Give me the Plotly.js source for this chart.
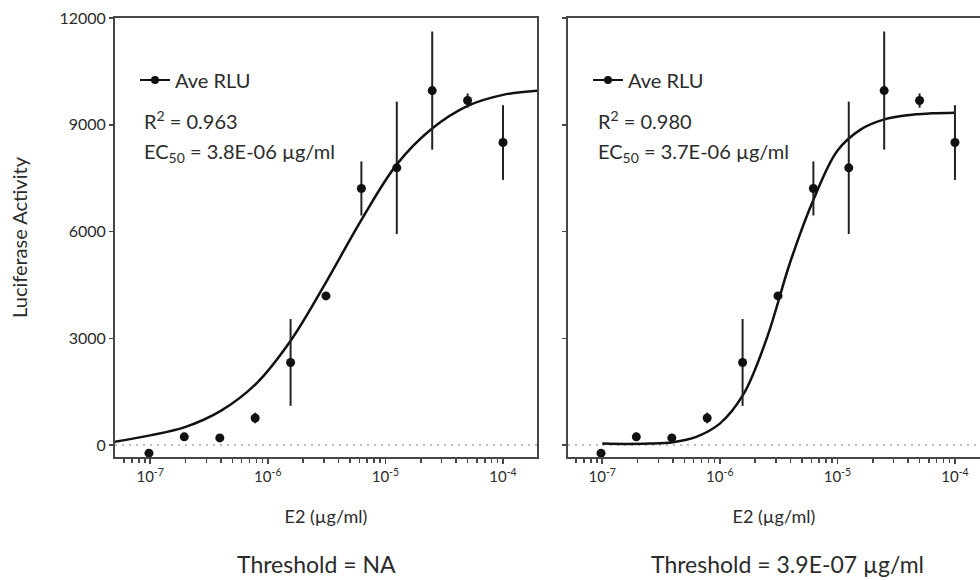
<!DOCTYPE html>
<html><head><meta charset="utf-8">
<script src="https://cdn.plot.ly/plotly-3.0.1.min.js"></script>
<style>html,body{margin:0;padding:0;background:#fff}#chart{width:980px;height:580px}</style>
</head><body><div id="chart"></div>
<script>
// ---- data ----
const dose = [9.77e-8, 1.95e-7, 3.91e-7, 7.81e-7, 1.5625e-6, 3.125e-6, 6.25e-6, 1.25e-5, 2.5e-5, 5e-5, 1e-4];
const aveRLU = [-230, 230, 200, 760, 2320, 4190, 7210, 7790, 9960, 9680, 8500];
const errRLU = [60, 110, 60, 150, 1220, 80, 760, 1860, 1660, 200, 1050];

// fitted curve, left panel
const fitLeftX = [5.01e-8, 1e-7, 2.0e-7, 3.98e-7, 7.94e-7, 1.585e-6, 3.16e-6, 6.31e-6, 1.26e-5, 2.51e-5, 5.01e-5, 1e-4, 2.0e-4];
const fitLeftY = [90, 270, 510, 960, 1720, 2960, 4600, 6350, 7900, 8900, 9530, 9840, 9960];

// fitted curve, right panel
const fitRightX = [1e-7, 1.585e-7, 2.51e-7, 3.98e-7, 6.31e-7, 1e-6, 1.585e-6, 2.51e-6, 3.98e-6, 6.31e-6, 1e-5, 1.585e-5, 2.51e-5, 3.98e-5, 6.31e-5, 1e-4];
const fitRightY = [40, 30, 40, 80, 230, 600, 1420, 3000, 5150, 6920, 8270, 8870, 9150, 9270, 9320, 9340];

const xTickVals = [1e-7, 1e-6, 1e-5, 1e-4];
const xTickText = ['10<sup>-7</sup>', '10<sup>-6</sup>', '10<sup>-5</sup>', '10<sup>-4</sup>'];
const yTickVals = [0, 3000, 6000, 9000, 12000];
const yTickText = ['0', '3000', '6000', '9000', '12000'];
const seriesName = 'Ave RLU';
const statsLeft = ['R<sup>2</sup> = 0.963', 'EC<sub>50</sub> = 3.8E-06 µg/ml'];
const statsRight = ['R<sup>2</sup> = 0.980', 'EC<sub>50</sub> = 3.7E-06 µg/ml'];
const thresholdLeft = 'Threshold = NA';
const thresholdRight = 'Threshold = 3.9E-07 µg/ml';
const xTitle = 'E2 (µg/ml)';
const yTitle = 'Luciferase Activity';

// ---- styling ----
const FONT = 'Lato, "Open Sans", sans-serif';
const INK = '#2b2b2b';
const AX = '#474747';
const MARK = '#111';

const minorVals = [];
[1e-8, 1e-7, 1e-6, 1e-5, 1e-4].forEach(d => { for (let k = 2; k <= 9; k++) minorVals.push(k * d); });

function xAxis(domain, range, anchor) {
  return {
    type: 'log', domain: domain, range: range, anchor: anchor,
    showline: true, linecolor: AX, linewidth: 2, mirror: true,
    ticks: 'outside', ticklen: 5, tickwidth: 1.5, tickcolor: AX,
    tickmode: 'array', tickvals: xTickVals, ticktext: xTickText,
    tickfont: {family: FONT, size: 15, color: INK},
    showgrid: false, zeroline: false,
    minor: {tickmode: 'array', tickvals: minorVals, ticks: 'outside', ticklen: 4, tickwidth: 1.5, tickcolor: AX, showgrid: false},
    title: {text: xTitle, font: {family: FONT, size: 18, color: INK}, standoff: 26}
  };
}
function yAxis(anchor, labels, mirror) {
  return {
    domain: [0, 1], range: [-337, 12000], anchor: anchor,
    showline: true, linecolor: AX, linewidth: 2, mirror: mirror,
    ticks: 'outside', ticklen: 4, tickwidth: 1.5, tickcolor: AX,
    tickmode: 'array', tickvals: yTickVals, ticktext: yTickText, showticklabels: labels,
    tickfont: {family: FONT, size: 16, color: INK},
    showgrid: false, zeroline: false,
    title: labels ? {text: yTitle, font: {family: FONT, size: 20, color: INK}, standoff: 26} : {text: ''}
  };
}

function panelTraces(xa, ya, fx, fy, legendId) {
  return [
    {x: fx, y: fy, xaxis: xa, yaxis: ya, mode: 'lines', line: {color: MARK, width: 2.5, shape: 'spline', smoothing: 1}, showlegend: false, hoverinfo: 'skip'},
    {x: dose, y: aveRLU, xaxis: xa, yaxis: ya, mode: 'markers', name: seriesName,
     marker: {color: MARK, size: 9},
     error_y: {type: 'data', array: errRLU, visible: true, color: '#222', thickness: 2, width: 0},
     showlegend: false},
    {x: [null], y: [null], xaxis: xa, yaxis: ya, mode: 'lines+markers', name: seriesName,
     line: {color: MARK, width: 2}, marker: {color: MARK, size: 8}, legend: legendId, showlegend: true}
  ];
}

const traces = [].concat(
  panelTraces('x', 'y', fitLeftX, fitLeftY, 'legend'),
  panelTraces('x2', 'y2', fitRightX, fitRightY, 'legend2')
);

const W = 865, L = 115;
const px = v => (v - L) / W;         // page x -> paper x
const py = v => (457 - v) / 439;     // page y -> paper y

function statAnn(text, x, y) {
  return {text: text, xref: 'paper', yref: 'paper', x: px(x), y: py(y), xanchor: 'left', yanchor: 'middle',
          showarrow: false, font: {family: FONT, size: 20, color: INK}};
}
function thrAnn(text, x) {
  return {text: text, xref: 'paper', yref: 'paper', x: px(x), y: py(564), xanchor: 'center', yanchor: 'middle',
          showarrow: false, font: {family: FONT, size: 23, color: INK}};
}

const legendStyle = {font: {family: FONT, size: 20, color: INK}, bgcolor: 'rgba(0,0,0,0)', borderwidth: 0,
                     itemwidth: 30, xanchor: 'left', yanchor: 'middle', y: py(80)};

const layout = {
  width: 980, height: 580,
  margin: {l: L, r: 0, t: 18, b: 123},
  paper_bgcolor: '#fff', plot_bgcolor: '#fff',
  font: {family: FONT, color: INK},
  xaxis: xAxis([0, 422 / W], [-7.299, -3.711], 'y'),
  yaxis: yAxis('x', true, true),
  xaxis2: xAxis([453 / W, 1], [-7.291, -3.787], 'y2'),
  yaxis2: yAxis('x2', false, false),
  legend: Object.assign({}, legendStyle, {x: px(135)}),
  legend2: Object.assign({}, legendStyle, {x: px(588)}),
  shapes: [
    {type: 'line', xref: 'x domain', yref: 'y', x0: 0, x1: 1, y0: 0, y1: 0, line: {color: '#bdbdbd', width: 2, dash: '2px,5px'}, layer: 'below'},
    {type: 'line', xref: 'x2 domain', yref: 'y2', x0: 0, x1: 1, y0: 0, y1: 0, line: {color: '#bdbdbd', width: 2, dash: '2px,5px'}, layer: 'below'}
  ],
  annotations: [
    statAnn(statsLeft[0], 142, 120), statAnn(statsLeft[1], 142, 152),
    statAnn(statsRight[0], 596, 120), statAnn(statsRight[1], 596, 152),
    thrAnn(thresholdLeft, 316), thrAnn(thresholdRight, 787)
  ]
};

Plotly.newPlot('chart', traces, layout, {displayModeBar: false, staticPlot: true});
</script>
</body></html>
